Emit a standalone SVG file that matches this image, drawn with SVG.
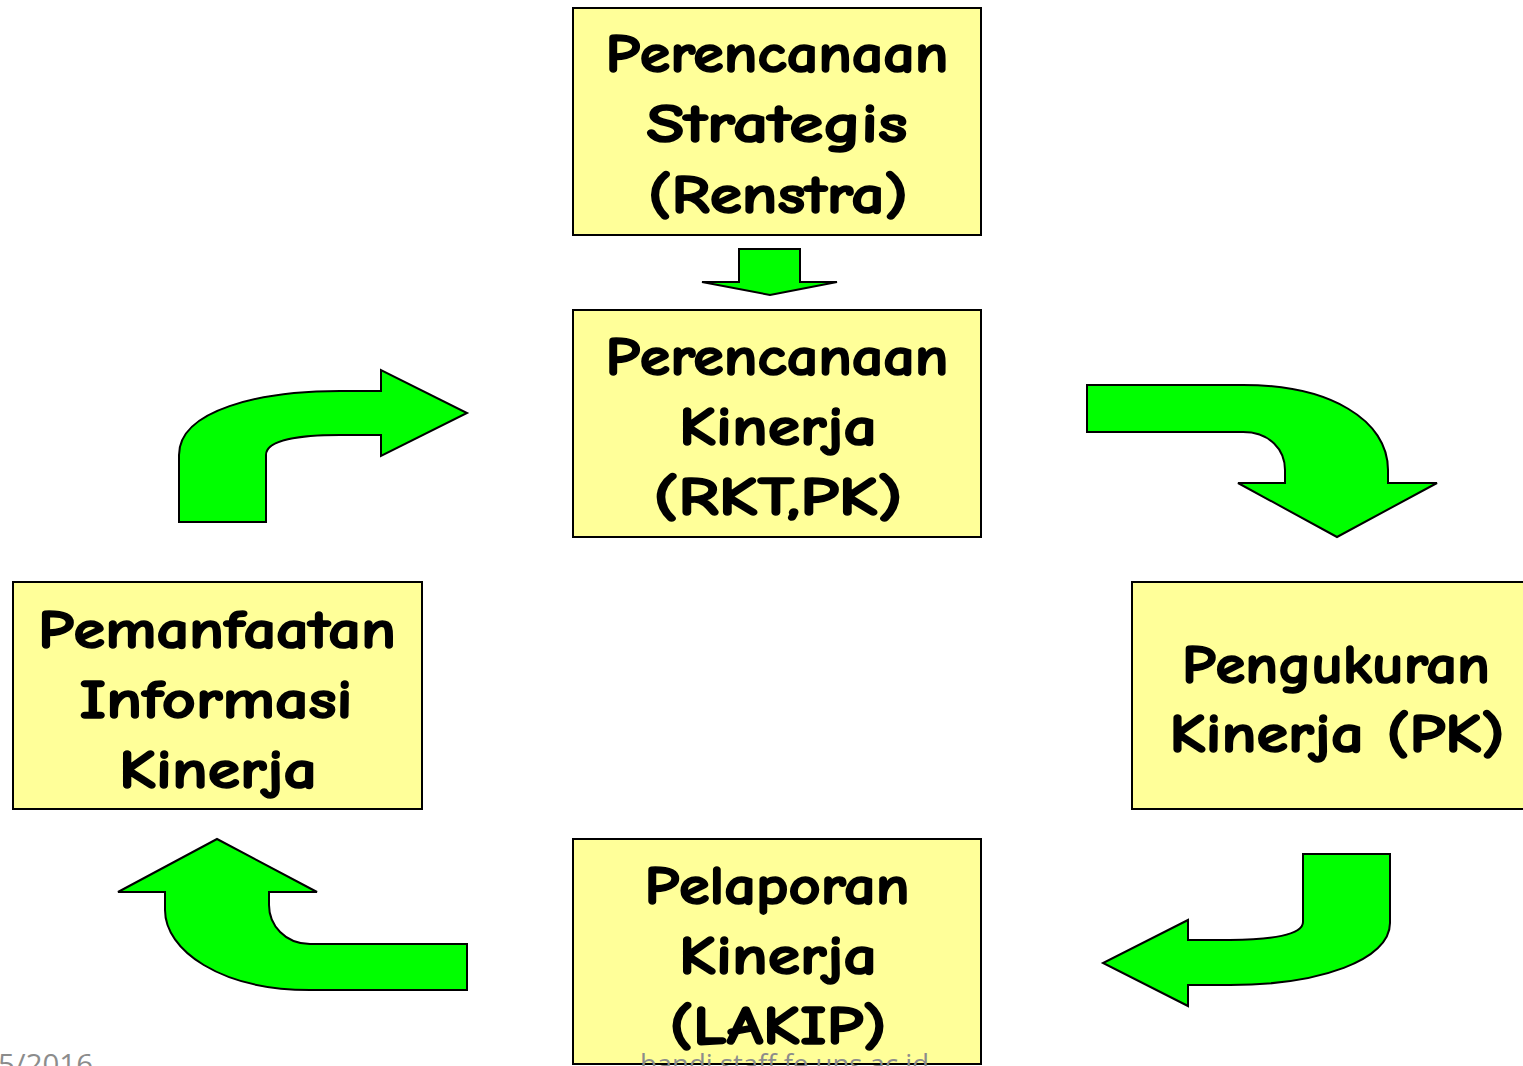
<svg xmlns="http://www.w3.org/2000/svg" width="1523" height="1066" viewBox="0 0 1523 1066">
  <style>
    .box { fill: #FFFF99; stroke: #000; stroke-width: 2; }
    .lbl { font-family: "Comic Sans MS", "Comic Neue", "DejaVu Sans", sans-serif; font-weight: bold; font-size: 55px; fill: #000; stroke: #000; stroke-width: 1.6; stroke-linejoin: round; text-anchor: middle; }
    .arr { fill: #00FF00; stroke: #000; stroke-width: 2; stroke-linejoin: miter; }
    .foot { font-family: "Open Sans", "Liberation Sans", sans-serif; font-size: 28px; fill: #8C8C8C; }
  </style>
  <rect width="1523" height="1066" fill="#fff"/>

  <!-- process steps -->
  <g id="renstra">
    <rect class="box" x="573" y="8" width="408" height="227"/>
    <text class="lbl" x="777" y="72" textLength="343" lengthAdjust="spacingAndGlyphs">Perencanaan</text>
    <text class="lbl" x="777" y="142" textLength="261" lengthAdjust="spacingAndGlyphs">Strategis</text>
    <text class="lbl" x="778" y="213" textLength="260" lengthAdjust="spacingAndGlyphs">(Renstra)</text>
  </g>
  <g id="perencanaan-kinerja">
    <rect class="box" x="573" y="310" width="408" height="227"/>
    <text class="lbl" x="777" y="375" textLength="343" lengthAdjust="spacingAndGlyphs">Perencanaan</text>
    <text class="lbl" x="778" y="445" textLength="198" lengthAdjust="spacingAndGlyphs">Kinerja</text>
    <text class="lbl" x="778" y="515" textLength="249" lengthAdjust="spacingAndGlyphs">(RKT,PK)</text>
  </g>
  <g id="pengukuran">
    <rect class="box" x="1132" y="582" width="400" height="227"/>
    <text class="lbl" x="1336" y="683" textLength="308" lengthAdjust="spacingAndGlyphs">Pengukuran</text>
    <text class="lbl" x="1337" y="752" textLength="335" lengthAdjust="spacingAndGlyphs">Kinerja (PK)</text>
  </g>
  <g id="pelaporan">
    <rect class="box" x="573" y="839" width="408" height="225"/>
    <text class="lbl" x="777" y="904" textLength="265" lengthAdjust="spacingAndGlyphs">Pelaporan</text>
    <text class="lbl" x="778" y="974" textLength="198" lengthAdjust="spacingAndGlyphs">Kinerja</text>
    <text class="lbl" x="778" y="1044" textLength="217" lengthAdjust="spacingAndGlyphs">(LAKIP)</text>
  </g>
  <g id="pemanfaatan">
    <rect class="box" x="13" y="582" width="409" height="227"/>
    <text class="lbl" x="217" y="648" textLength="358" lengthAdjust="spacingAndGlyphs">Pemanfaatan</text>
    <text class="lbl" x="216" y="718" textLength="273" lengthAdjust="spacingAndGlyphs">Informasi</text>
    <text class="lbl" x="218" y="788" textLength="198" lengthAdjust="spacingAndGlyphs">Kinerja</text>
  </g>

  <!-- block arrows between steps -->
  <g id="connectors">
    <path class="arr" d="M739,249 L800,249 L800,282 L837,282 L770,295 L702,282 L739,282 Z"/>
    <path class="arr" d="M1087,385 L1243,385 C1330,385 1388,420 1388,470 L1388,483 L1437,483 L1337,537 L1238,483 L1285,483 L1285,470 C1285,450 1270,432 1243,432 L1087,432 Z"/>
    <path class="arr" d="M1303,854 L1390,854 L1390,923 C1390,960 1320,985 1230,985 L1188,985 L1188,1006 L1103,963 L1188,920 L1188,940 L1230,940 C1270,940 1303,935 1303,922 Z"/>
    <path class="arr" d="M467,944 L467,990 L310,990 C220,990 165,950 165,910 L165,892 L118,892 L217,839 L317,892 L269,892 L269,905 C269,925 285,944 310,944 Z"/>
    <path class="arr" d="M179,522 L179,455 C179,410 260,391 340,391 L381,391 L381,370 L467,413 L381,456 L381,435 L340,435 C300,435 266,440 266,455 L266,522 Z"/>
  </g>

  <!-- footer -->
  <text class="foot" x="-2" y="1074" textLength="95" lengthAdjust="spacingAndGlyphs">5/2016</text>
  <text class="foot" x="640" y="1074" textLength="289" lengthAdjust="spacingAndGlyphs">bandi.staff.fe.uns.ac.id</text>
</svg>
